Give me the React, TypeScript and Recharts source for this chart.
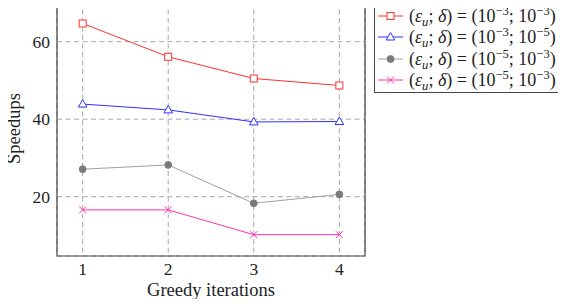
import React from 'react'
import {
  LineChart,
  Line,
  XAxis,
  YAxis,
  CartesianGrid,
  ReferenceArea,
} from 'recharts'

const iterations = [1, 2, 3, 4]
const redValues = [64.7, 56.1, 50.5, 48.7]
const blueValues = [43.9, 42.4, 39.3, 39.4]
const grayValues = [27.1, 28.2, 18.3, 20.6]
const pinkValues = [16.6, 16.6, 10.2, 10.2]
const epsExps = ['−3', '−3', '−5', '−5']
const deltaExps = ['−3', '−5', '−3', '−3']
const yTicks = [20, 40, 60]

const FONT = '"Liberation Serif", serif'

type Marker = 'square' | 'triangle' | 'circle' | 'cross'

const series: { key: string; color: string; lineColor: string; marker: Marker }[] = [
  { key: 'red', color: '#ff3030', lineColor: '#ff3030', marker: 'square' },
  { key: 'blue', color: '#3030ff', lineColor: '#3030ff', marker: 'triangle' },
  { key: 'gray', color: '#7a7a7a', lineColor: '#a0a0a0', marker: 'circle' },
  { key: 'pink', color: '#ff30b0', lineColor: '#ff30b0', marker: 'cross' },
]

const data = iterations.map((it, i) => ({
  iter: it,
  red: redValues[i],
  blue: blueValues[i],
  gray: grayValues[i],
  pink: pinkValues[i],
}))

function markerShape(kind: Marker, cx: number, cy: number, color: string, key?: string) {
  if (kind === 'square')
    return <rect key={key} x={cx - 3.5} y={cy - 3.5} width={7} height={7} fill="#fff" stroke={color} strokeWidth={1} />
  if (kind === 'triangle')
    return (
      <polygon
        key={key}
        points={`${cx},${cy - 4.5} ${cx - 4.3},${cy + 3} ${cx + 4.3},${cy + 3}`}
        fill="#fff"
        stroke={color}
        strokeWidth={1}
      />
    )
  if (kind === 'circle') return <circle key={key} cx={cx} cy={cy} r={3.4} fill={color} stroke={color} />
  return (
    <g key={key} stroke={color} strokeWidth={1}>
      <line x1={cx - 3.5} y1={cy - 3.5} x2={cx + 3.5} y2={cy + 3.5} />
      <line x1={cx - 3.5} y1={cy + 3.5} x2={cx + 3.5} y2={cy - 3.5} />
    </g>
  )
}

const supStyle: React.CSSProperties = {
  fontSize: '0.7em',
  position: 'relative',
  top: '-0.55em',
  verticalAlign: 'baseline',
}
const subStyle: React.CSSProperties = {
  fontSize: '0.7em',
  position: 'relative',
  top: '0.3em',
  verticalAlign: 'baseline',
}

function LegendBox() {
  return (
    <div
      style={{
        position: 'absolute',
        left: 374,
        top: 0,
        boxSizing: 'border-box',
        width: 191,
        height: 93,
        border: '1px solid #444',
        background: '#fff',
        padding: '4px 0 0 3px',
        fontFamily: FONT,
        fontSize: 18,
        color: '#222',
      }}
    >
      {series.map((s, i) => (
        <div key={s.key} style={{ display: 'flex', alignItems: 'center', height: 21.5, whiteSpace: 'nowrap' }}>
          <svg width={26} height={14} style={{ marginRight: 5 }}>
            <line x1={0} y1={7} x2={25} y2={7} stroke={s.lineColor} strokeWidth={1} />
            {markerShape(s.marker, 12.5, 7, s.color)}
          </svg>
          <span style={{ lineHeight: 1 }}>
            (<i>ε</i>
            <span style={subStyle}>
              <i>u</i>
            </span>
            ; <i>δ</i>) = (10
            <span style={supStyle}>{epsExps[i]}</span>; 10
            <span style={supStyle}>{deltaExps[i]}</span>)
          </span>
        </div>
      ))}
    </div>
  )
}

export default function App() {
  const tickStyle = { fill: '#222', fontSize: 17.5, fontFamily: FONT }
  const labelStyle = { fill: '#222', fontSize: 18.5, fontFamily: FONT }
  return (
    <div style={{ margin: -8, background: '#fff', width: 566, height: 307, position: 'relative' }}>
      <LineChart width={566} height={307} data={data} margin={{ top: 1, right: 201, left: 0, bottom: 0 }}>
        <CartesianGrid stroke="#a8a8a8" strokeDasharray="5 3.5" />
        <XAxis
          type="number"
          dataKey="iter"
          domain={[0.7, 4.3]}
          ticks={iterations}
          height={51}
          axisLine={false}
          tickLine={false}
          tickSize={0}
          tickMargin={7}
          tick={tickStyle}
          label={{ value: 'Greedy iterations', position: 'insideBottom', offset: 11, style: labelStyle }}
        />
        <YAxis
          type="number"
          domain={[4.7, 70.5]}
          ticks={yTicks}
          width={57}
          axisLine={false}
          tickLine={false}
          tickSize={0}
          tickMargin={7}
          tick={tickStyle}
          label={{ value: 'Speedups', angle: -90, position: 'center', dx: -15, style: { ...labelStyle, textAnchor: 'middle' } }}
        />
        <ReferenceArea x1={0.7} x2={4.3} y1={4.7} y2={70.5} fill="none" stroke="#444" strokeWidth={1.2} />
        {series.map((s) => (
          <Line
            key={s.key}
            dataKey={s.key}
            stroke={s.lineColor}
            strokeWidth={1}
            isAnimationActive={false}
            dot={(p: any) => markerShape(s.marker, p.cx, p.cy, s.color, `${s.key}-${p.index}`)}
            activeDot={false}
          />
        ))}
      </LineChart>
      <LegendBox />
    </div>
  )
}
